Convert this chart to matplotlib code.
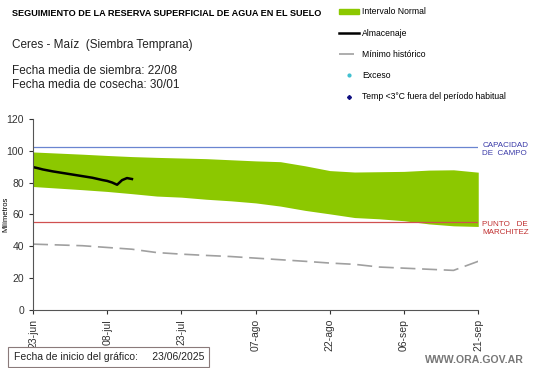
import matplotlib
matplotlib.use('Agg')
import matplotlib.pyplot as plt
from matplotlib.lines import Line2D
from matplotlib.patches import Patch

plt.rcParams['font.family'] = ['Liberation Sans', 'DejaVu Sans']

# days since 23/06/2025
band_days = [0, 5, 10, 15, 20, 25, 30, 35, 40, 45, 50, 55, 60, 65, 70, 75, 80, 85, 90]
band_upper = [99.2, 98.5, 97.8, 97.0, 96.3, 95.8, 95.4, 95.0, 94.3, 93.6, 93.1, 90.5,
              87.5, 86.6, 86.8, 87.0, 87.8, 88.0, 86.5]
band_lower = [77.5, 76.5, 75.5, 74.4, 73.0, 71.5, 70.8, 69.5, 68.5, 67.2, 65.2, 62.5,
              60.3, 58.0, 57.2, 56.0, 54.0, 52.8, 52.4]

min_days = band_days
min_hist = [41.3, 40.8, 40.3, 39.2, 38.1, 36.0, 35.0, 34.2, 33.5, 32.5, 31.5, 30.5,
            29.4, 28.6, 26.9, 26.2, 25.5, 24.8, 30.5]

alm_days = list(range(21))
almacenaje = [89.7, 89.0, 88.2, 87.6, 87.0, 86.5, 86.0, 85.5, 85.0, 84.5, 84.0,
              83.5, 83.0, 82.3, 81.6, 81.0, 80.0, 78.6, 81.5, 82.8, 82.2]

capacidad = 102.3
marchitez = 55.0

tick_days = [0, 15, 30, 45, 60, 75, 90]
tick_labels = ['23-jun', '08-jul', '23-jul', '07-ago', '22-ago', '06-sep', '21-sep']

green = '#8cc800'
fig = plt.figure(figsize=(5.41, 3.68), dpi=100)
ax = fig.add_axes([0.061, 0.158, 0.823, 0.519])

ax.fill_between(band_days, band_lower, band_upper, color=green, lw=0)
ax.plot([0, 90], [capacidad, capacidad], color='#6a85d0', lw=0.9)
ax.plot([0, 90], [marchitez, marchitez], color='#d05050', lw=0.9)
ax.plot(min_days, min_hist, color='#a0a0a0', lw=1.2, dashes=(9, 4))
ax.plot(alm_days, almacenaje, color='black', lw=1.8)

ax.set_xlim(0, 90)
ax.set_ylim(0, 120)
ax.set_yticks(range(0, 121, 20))
ax.set_xticks(tick_days)
ax.set_xticklabels(tick_labels, rotation=90)
ax.tick_params(labelsize=7.5, length=3, direction='out', colors='#333333')
ax.set_ylabel('Milímetros', fontsize=5.5)
ax.yaxis.set_label_coords(-0.054, 0.5)
for s in ['top', 'right']:
    ax.spines[s].set_visible(False)
for s in ['left', 'bottom']:
    ax.spines[s].set_color('#555555')

ax.text(90.8, capacidad - 1.5, 'CAPACIDAD\nDE  CAMPO', color='#3a3aa8', fontsize=5.8,
        va='center', ha='left', linespacing=1.3)
ax.text(90.8, marchitez - 4.0, 'PUNTO   DE\nMARCHITEZ', color='#c03030', fontsize=5.8,
        va='center', ha='left', linespacing=1.3)

fig.text(0.022, 0.962, 'SEGUIMIENTO DE LA RESERVA SUPERFICIAL DE AGUA EN EL SUELO',
         fontsize=6.6, fontweight='bold', va='center')
fig.text(0.022, 0.877, 'Ceres - Maíz  (Siembra Temprana)', fontsize=8.5, va='center',
         color='#222222')
fig.text(0.022, 0.807, 'Fecha media de siembra: 22/08', fontsize=8.5, va='center',
         color='#222222')
fig.text(0.022, 0.769, 'Fecha media de cosecha: 30/01', fontsize=8.5, va='center',
         color='#222222')

handles = [Patch(color=green),
           Line2D([], [], color='black', lw=1.8),
           Line2D([], [], color='#a0a0a0', lw=1.2, dashes=(9, 4)),
           Line2D([], [], color='#40c0d0', marker='o', ms=2, lw=0),
           Line2D([], [], color='#101080', marker='D', ms=2, lw=0)]
labels = ['Intervalo Normal', 'Almacenaje', 'Mínimo histórico', 'Exceso',
          'Temp <3°C fuera del período habitual']
fig.legend(handles, labels, loc='upper left', bbox_to_anchor=(0.615, 0.996), frameon=False,
           fontsize=6.2, handlelength=2.4, handleheight=0.6, labelspacing=1.42,
           handletextpad=0.3, borderaxespad=0.3)

fig.text(0.025, 0.03, 'Fecha de inicio del gráfico:     23/06/2025', fontsize=7.5,
         va='center', color='#222222',
         bbox=dict(boxstyle='square,pad=0.5', fc='white', ec='#8a7a7a', lw=0.8))
fig.text(0.785, 0.022, 'WWW.ORA.GOV.AR', fontsize=7.6, fontweight='bold', color='#777777',
         va='center')

fig.savefig('out.png', dpi=100)
